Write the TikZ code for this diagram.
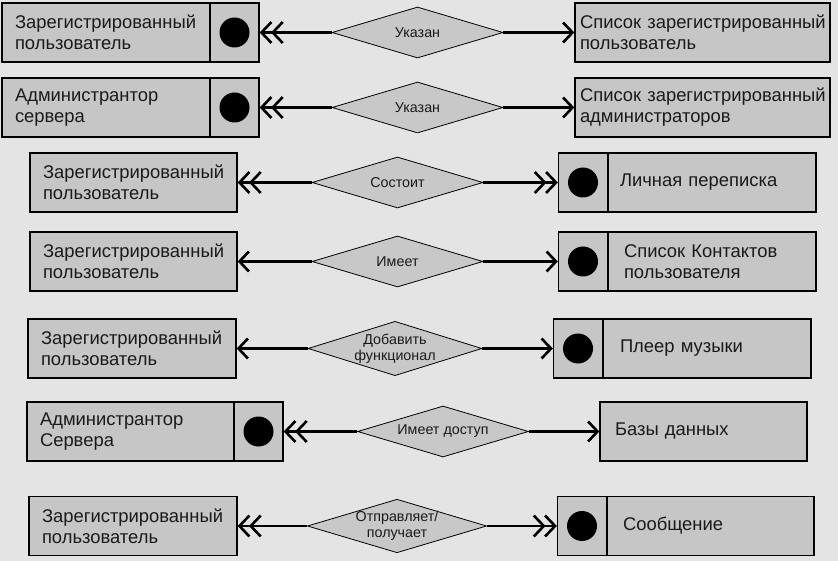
\documentclass[tikz,border=0pt]{standalone}
\usepackage{fontspec}
\setmainfont{Liberation Sans}
\usepackage{tikz}
\usetikzlibrary{arrows.meta,shapes.geometric}
\usepackage{xcolor}
\definecolor{bgc}{HTML}{E4E4E4}
\definecolor{boxc}{HTML}{C6C6C6}
\definecolor{relc}{HTML}{C8C8C8}
\definecolor{txtc}{HTML}{1A1A1A}
\tikzset{
  ent/.style 2 args={draw, fill=boxc, line width=1.3pt, minimum height=59pt,
                  inner xsep=#1, text width=#2, align=left, text=txtc,
                  font=\fontsize{18.4}{21}\selectfont},
  keyb/.style  ={draw, fill=boxc, line width=1.3pt, minimum width=49pt,
                  minimum height=59pt, inner sep=0pt},
  dot/.style   ={circle, fill=black, minimum size=30pt, inner sep=0pt},
  rel/.style   ={diamond, draw, fill=relc, line width=0.8pt, aspect=3.35,
                  inner sep=0pt, minimum width=171pt, minimum height=51pt,
                  align=center, text=txtc, font=\fontsize{14.3}{15.5}\selectfont},
  one/.style   ={-{Straight Barb[length=9.5pt,width=20pt]}, line width=2.6pt},
  many/.style  ={-{Straight Barb[length=10pt,width=21pt,sep=-1.8pt]
                  Straight Barb[length=10pt,width=21pt]}, line width=2.6pt},
}
\begin{document}
\begin{tikzpicture}[x=1pt,y=-1pt]
  \fill[bgc] (0,0) rectangle (838,561);
  % row 1
  \node[ent={13pt}{182pt}] (e1) at (106,32.5) {Зарегистрированный\\пользователь};
  \node[keyb] (k1) at (234.5,32.5) {};
  \node[dot] (p1) at (k1) {};
  \node[rel] (r1) at (417.5,32.5) {Указан};
  \node[ent={5pt}{245pt}] (f1) at (702.5,32.5)
    {Список~зарегистрированный\\пользователь};
  \draw[many] (r1.west) -- (k1.east);
  \draw[one] (r1.east) -- (f1.west);
  % row 2
  \node[ent={13pt}{182pt}] (e2) at (106,107.5) {Администрантор\\сервера};
  \node[keyb] (k2) at (234.5,107.5) {};
  \node[dot] (p2) at (k2) {};
  \node[rel] (r2) at (417.5,107.5) {Указан};
  \node[ent={5pt}{245pt}] (f2) at (702.5,107.5)
    {Список~зарегистрированный\\администраторов};
  \draw[many] (r2.west) -- (k2.east);
  \draw[one] (r2.east) -- (f2.west);
  % row 3
  \node[ent={13pt}{181pt}] (e3) at (133.5,182.5) {Зарегистрированный\\пользователь};
  \node[rel] (r3) at (397.5,182.5) {Состоит};
  \node[keyb] (k3) at (583,182.5) {};
  \node[dot] (p3) at (k3) {};
  \node[ent={12pt}{184pt}] (f3) at (712,182.5) {Личная переписка};
  \draw[many] (r3.west) -- (e3.east);
  \draw[many] (r3.east) -- (k3.west);
  % row 4
  \node[ent={13pt}{181pt}] (e4) at (133.5,261.5) {Зарегистрированный\\пользователь};
  \node[rel] (r4) at (397.5,261.5) {Имеет};
  \node[keyb] (k4) at (583,261.5) {};
  \node[dot] (p4) at (k4) {};
  \node[ent={16pt}{176pt}] (f4) at (712,261.5) {Список Контактов\\пользователя};
  \draw[one] (r4.west) -- (e4.east);
  \draw[one] (r4.east) -- (k4.west);
  % row 5
  \node[ent={13pt}{182pt}] (e5) at (132,348.5) {Зарегистрированный\\пользователь};
  \node[rel, aspect=3.2] (r5) at (395,348.5) {Добавить\\функционал};
  \node[keyb] (k5) at (578,348.5) {};
  \node[dot] (p5) at (k5) {};
  \node[ent={17pt}{174pt}] (f5) at (707,348.5) {Плеер музыки};
  \draw[one] (r5.west) -- (e5.east);
  \draw[one] (r5.east) -- (k5.west);
  % row 6
  \node[ent={13pt}{181pt}] (e6) at (130.5,431.5) {Администрантор\\Сервера};
  \node[keyb] (k6) at (258.5,431.5) {};
  \node[dot] (p6) at (k6) {};
  \node[rel] (r6) at (443,431.5) {Имеет доступ};
  \node[ent={15pt}{177pt}] (f6) at (703.5,431.5) {Базы данных};
  \draw[many] (r6.west) -- (k6.east);
  \draw[one] (r6.east) -- (f6.west);
  % row 7
  \node[ent={13pt}{182pt}] (e7) at (133,526) {Зарегистрированный\\пользователь};
  \node[rel] (r7) at (397,526) {Отправляет/\\получает};
  \node[keyb] (k7) at (582,526) {};
  \node[dot] (p7) at (k7) {};
  \node[ent={16pt}{175pt}] (f7) at (710.5,526) {Сообщение};
  \draw[many] (r7.west) -- (e7.east);
  \draw[many] (r7.east) -- (k7.west);
\end{tikzpicture}
\end{document}
